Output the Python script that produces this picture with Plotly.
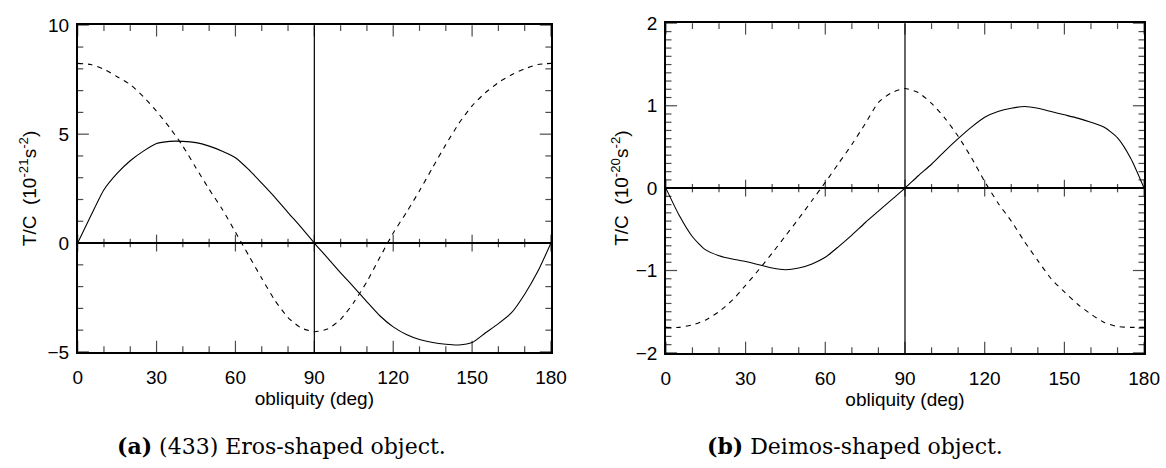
import plotly.graph_objects as go

# ---------------- data ----------------
OBLIQUITY = list(range(0, 181, 5))

EROS_SOLID = [0.0, 1.25, 2.45, 3.2, 3.78, 4.22, 4.57, 4.67, 4.67, 4.61, 4.45, 4.22, 3.92,
              3.38, 2.75, 2.1, 1.4, 0.72, 0.0, -0.68, -1.37, -2.02, -2.7, -3.35, -3.85,
              -4.2, -4.43, -4.57, -4.65, -4.68, -4.57, -4.13, -3.7, -3.2, -2.35, -1.3, 0.0]
EROS_DASH = [8.25, 8.2, 7.98, 7.64, 7.28, 6.72, 6.05, 5.3, 4.45, 3.45, 2.47, 1.55, 0.5,
             -0.56, -1.62, -2.63, -3.42, -3.9, -4.07, -3.95, -3.5, -2.73, -1.77, -0.64,
             0.46, 1.4, 2.4, 3.47, 4.52, 5.5, 6.3, 6.9, 7.37, 7.73, 8.0, 8.2, 8.25]

DEIMOS_SOLID = [0.0, -0.33, -0.59, -0.75, -0.82, -0.86, -0.89, -0.93, -0.97, -0.99, -0.97,
                -0.92, -0.84, -0.71, -0.57, -0.42, -0.28, -0.14, 0.0, 0.15, 0.29, 0.45,
                0.6, 0.74, 0.86, 0.93, 0.97, 0.99, 0.97, 0.93, 0.89, 0.85, 0.8, 0.74,
                0.61, 0.36, 0.0]
DEIMOS_DASH = [-1.69, -1.69, -1.66, -1.6, -1.5, -1.36, -1.18, -0.99, -0.79, -0.58, -0.37,
               -0.15, 0.07, 0.3, 0.53, 0.78, 1.04, 1.16, 1.21, 1.16, 1.03, 0.85, 0.63,
               0.37, 0.08, -0.18, -0.4, -0.65, -0.88, -1.1, -1.26, -1.41, -1.53, -1.63,
               -1.68, -1.69, -1.69]

X_RANGE = [0, 180]
X_MAJOR, X_MINOR = 30, 10
EROS_YRANGE = [-5, 10]
EROS_MAJOR, EROS_MINOR = 5, 1
DEIMOS_YRANGE = [-2, 2]
DEIMOS_MAJOR, DEIMOS_MINOR = 1, 0.1
V_LINE = 90

X_TITLE = "obliquity (deg)"
EROS_YTITLE = "T/C&nbsp; (10<sup>-21</sup>s<sup>-2</sup>)"
DEIMOS_YTITLE = "T/C&nbsp; (10<sup>-20</sup>s<sup>-2</sup>)"
CAPTION_A = "<b>(a)</b> (433) Eros-shaped object."
CAPTION_B = "<b>(b)</b> Deimos-shaped object."

# ---------------- layout geometry ----------------
W, H = 1166, 468
XD1 = [74 / W, 556 / W]
XD2 = [673 / W, 1160 / W]
YD1 = [1 - 358 / H, 1 - 16 / H]
YD2 = [1 - 359 / H, 1 - 14 / H]

SANS = "Liberation Sans, Arial, sans-serif"
SERIF = "DejaVu Serif, Liberation Serif, serif"
TICKFONT = dict(family=SANS, size=19, color="black")
MAJOR_LEN, MINOR_LEN = 8, 4


def steps(rng, step):
    n = int(round((rng[1] - rng[0]) / step))
    return [round(rng[0] + i * step, 6) for i in range(n + 1)]


def is_major(v, major):
    q = v / major
    return abs(q - round(q)) < 1e-6


fig = go.Figure()
line_solid = dict(color="black", width=1.1, shape="spline", smoothing=0.6)
line_dash = dict(color="black", width=1.1, dash="5px,5px", shape="spline", smoothing=0.6)

panels = [
    ("x", "y", EROS_SOLID, EROS_DASH, EROS_YRANGE, EROS_MAJOR, EROS_MINOR),
    ("x2", "y2", DEIMOS_SOLID, DEIMOS_DASH, DEIMOS_YRANGE, DEIMOS_MAJOR, DEIMOS_MINOR),
]

for xa, ya, solid, dash, yrng, ymaj, ymin in panels:
    fig.add_trace(go.Scatter(x=OBLIQUITY, y=solid, mode="lines", line=line_solid,
                             xaxis=xa, yaxis=ya))
    fig.add_trace(go.Scatter(x=OBLIQUITY, y=dash, mode="lines", line=line_dash,
                             xaxis=xa, yaxis=ya))

    # inward tick marks on the frame: line markers centred on the frame edge,
    # the outer half is clipped away by the plot area
    xt = steps(X_RANGE, X_MINOR)
    xsz = [2 * MAJOR_LEN if is_major(v, X_MAJOR) else 2 * MINOR_LEN for v in xt]
    fig.add_trace(go.Scatter(
        x=xt + xt, y=[yrng[0]] * len(xt) + [yrng[1]] * len(xt), mode="markers",
        marker=dict(symbol="line-ns", size=xsz + xsz, line=dict(width=1.2, color="black")),
        cliponaxis=True, hoverinfo="skip", xaxis=xa, yaxis=ya))
    yt = steps(yrng, ymin)
    ysz = [2 * MAJOR_LEN if is_major(v, ymaj) else 2 * MINOR_LEN for v in yt]
    fig.add_trace(go.Scatter(
        x=[X_RANGE[0]] * len(yt) + [X_RANGE[1]] * len(yt), y=yt + yt, mode="markers",
        marker=dict(symbol="line-ew", size=ysz + ysz, line=dict(width=1.2, color="black")),
        cliponaxis=True, hoverinfo="skip", xaxis=xa, yaxis=ya))
    # ticks on the zero line
    zsz = [12 if is_major(v, X_MAJOR) else 6 for v in xt]
    fig.add_trace(go.Scatter(
        x=xt, y=[0] * len(xt), mode="markers",
        marker=dict(symbol="line-ns", size=zsz, line=dict(width=1.2, color="black")),
        cliponaxis=False, hoverinfo="skip", xaxis=xa, yaxis=ya))

common_x = dict(range=X_RANGE, dtick=X_MAJOR, tick0=0, ticks="",
                showline=True, linecolor="black", linewidth=1.5, mirror=True,
                showgrid=False, zeroline=False, tickfont=TICKFONT, ticklabelstandoff=8,
                title=dict(text=X_TITLE, font=dict(family=SANS, size=19, color="black"),
                           standoff=0))
common_y = dict(tick0=0, ticks="", showline=True, linecolor="black", linewidth=1.5,
                mirror=True, showgrid=False, zeroline=True, zerolinecolor="black",
                zerolinewidth=1.5, tickfont=TICKFONT, ticklabelstandoff=3)

fig.update_layout(
    width=W, height=H, margin=dict(l=0, r=0, t=0, b=0), showlegend=False,
    paper_bgcolor="white", plot_bgcolor="white",
    font=dict(family=SANS, color="black"),
    xaxis=dict(domain=XD1, anchor="y", **common_x),
    yaxis=dict(domain=YD1, anchor="x", range=EROS_YRANGE, dtick=EROS_MAJOR, **common_y),
    xaxis2=dict(domain=XD2, anchor="y2", **common_x),
    yaxis2=dict(domain=YD2, anchor="x2", range=DEIMOS_YRANGE, dtick=DEIMOS_MAJOR,
                **common_y),
)

# vertical reference line at 90 deg in each panel
for xr, yr in (("x", "y domain"), ("x2", "y2 domain")):
    fig.add_shape(type="line", xref=xr, yref=yr, x0=V_LINE, x1=V_LINE, y0=0, y1=1,
                  line=dict(color="black", width=1.2), layer="above")

# y-axis titles
fig.add_annotation(text=EROS_YTITLE, xref="paper", yref="paper", x=23 / W,
                   y=(YD1[0] + YD1[1]) / 2, textangle=-90, showarrow=False,
                   xanchor="center", yanchor="middle",
                   font=dict(family=SANS, size=19, color="black"))
fig.add_annotation(text=DEIMOS_YTITLE, xref="paper", yref="paper", x=626 / W,
                   y=(YD2[0] + YD2[1]) / 2, textangle=-90, showarrow=False,
                   xanchor="center", yanchor="middle",
                   font=dict(family=SANS, size=19, color="black"))

# captions
fig.add_annotation(text=CAPTION_A, xref="paper", yref="paper", x=282 / W, y=1 - 457 / H,
                   showarrow=False, xanchor="center", yanchor="middle",
                   font=dict(family=SERIF, size=22, color="black"))
fig.add_annotation(text=CAPTION_B, xref="paper", yref="paper", x=866 / W, y=1 - 457 / H,
                   showarrow=False, xanchor="center", yanchor="middle",
                   font=dict(family=SERIF, size=22, color="black"))

fig.write_html("out.html")
